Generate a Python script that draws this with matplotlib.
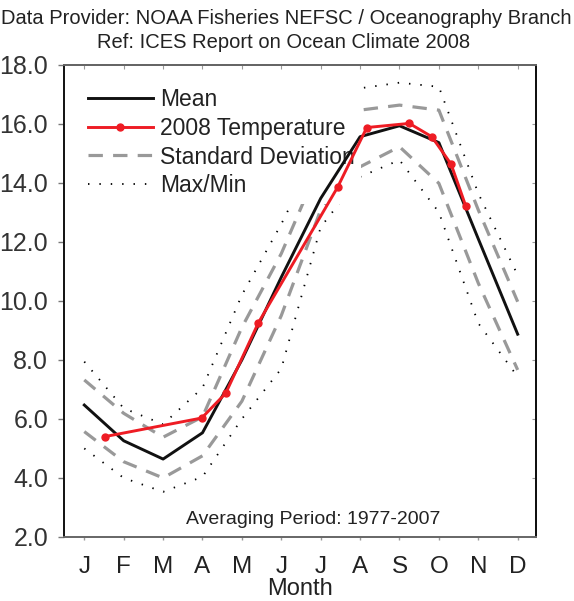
import numpy as np
import matplotlib
matplotlib.use('Agg')
import matplotlib.pyplot as plt

plt.rcParams['font.family'] = ['Liberation Sans', 'DejaVu Sans']

# monthly climatology 1977-2007
month_labels = ['J', 'F', 'M', 'A', 'M', 'J', 'J', 'A', 'S', 'O', 'N', 'D']
months = np.arange(1, 13)
mean_temp = [6.47, 5.26, 4.64, 5.53, 8.0, 10.8, 13.47, 15.56, 15.93, 15.36, 12.1, 8.87]
std_upper = [7.32, 6.19, 5.38, 6.07, 9.1, 11.6, 14.7, 16.46, 16.63, 16.46, 13.08, 9.97]
std_lower = [5.57, 4.55, 4.0, 4.75, 6.6, 9.5, 13.08, 14.54, 15.22, 13.98, 10.6, 7.66]
max_temp = [7.94, 6.36, 5.82, 7.05, 10.2, 12.6, 15.3, 17.2, 17.39, 17.25, 13.64, 10.87]
min_temp = [5.0, 4.0, 3.53, 4.04, 6.0, 7.7, 12.5, 14.2, 14.77, 13.0, 9.24, 7.43]

# 2008 survey observations (fractional month)
t2008 = [1.52, 3.98, 4.59, 5.42, 7.43, 8.17, 9.25, 9.82, 10.31, 10.68]
v2008 = [5.40, 6.03, 6.87, 9.26, 13.85, 15.87, 16.01, 15.56, 14.63, 13.22]

fig = plt.figure(figsize=(5.74, 6.01), dpi=100)
ax = fig.add_axes([0.1115, 0.1065, 0.8223, 0.7859])

dotted = dict(color='black', lw=1.3, dashes=(0.8, 5.5))
dashed = dict(color='#999999', lw=2.3, dashes=(4.5, 3.2))

ax.plot(months, max_temp, label='Max/Min', zorder=2, **dotted)
ax.plot(months, min_temp, zorder=2, **dotted)
ax.plot(months, std_upper, label='Standard Deviation', zorder=2, **dashed)
ax.plot(months, std_lower, zorder=2, **dashed)
ax.plot(months, mean_temp, color='#111111', lw=2.1, label='Mean', zorder=3)
ax.plot(t2008, v2008, color='#ee1c24', lw=2.1, marker='o', ms=5,
        label='2008 Temperature', zorder=4)

ax.set_xlim(0.485, 12.465)
ax.set_ylim(2, 18)
ax.set_xticks(months)
ax.set_xticklabels(month_labels)
ax.set_yticks(np.arange(2, 19, 2))
ax.set_yticklabels(['%.1f' % v for v in np.arange(2, 19, 2)])

ax.tick_params(axis='y', direction='out', length=4, width=1, color='#777777',
               labelsize=18, labelcolor='#333333', pad=7.5)
ax.tick_params(axis='x', direction='out', length=2, width=1, color='#999999',
               labelsize=17.5, labelcolor='#222222', pad=11.5)

top = ax.secondary_xaxis('top')
top.set_xticks(months)
top.tick_params(direction='in', length=3, color='#999999', labeltop=False)
top.spines['top'].set_color('#777777')
right = ax.secondary_yaxis('right')
right.set_yticks(np.arange(2, 19, 2))
right.tick_params(direction='in', length=3, color='#999999', labelright=False)

for s in ['left', 'right']:
    ax.spines[s].set_color('#111111')
    ax.spines[s].set_linewidth(1.4)
for s in ['top', 'bottom']:
    ax.spines[s].set_color('#666666')
    ax.spines[s].set_linewidth(1.4)
top.spines['top'].set_linewidth(1.4)
right.spines['right'].set_linewidth(1.4)
right.spines['right'].set_color('#111111')

ax.set_xlabel('Month', fontsize=17, color='#222222', labelpad=0)

handles, labels = ax.get_legend_handles_labels()
order = [2, 3, 1, 0]
leg = ax.legend([handles[i] for i in order], [labels[i] for i in order],
                loc='upper left', bbox_to_anchor=(0.036, 0.966), fontsize=16.5,
                handlelength=2.84, handletextpad=0.3, labelspacing=0.26,
                frameon=True, facecolor='white', edgecolor='none', framealpha=1,
                borderpad=0.3, borderaxespad=0)
# legend box hides the band lines but sits under mean and 2008 curves
leg.set_zorder(2.5)
for t in leg.get_texts():
    t.set_color('#222222')

ax.text(0.527, 0.036, 'Averaging Period: 1977-2007', transform=ax.transAxes,
        ha='center', va='center', fontsize=14, color='#222222')

fig.text(0.499, 0.969, 'Data Provider: NOAA Fisheries NEFSC / Oceanography Branch',
         ha='center', va='center', fontsize=14.5, color='#222222')
fig.text(0.494, 0.930, 'Ref: ICES Report on Ocean Climate 2008',
         ha='center', va='center', fontsize=14.5, color='#222222')

fig.savefig('out.png', dpi=100)
